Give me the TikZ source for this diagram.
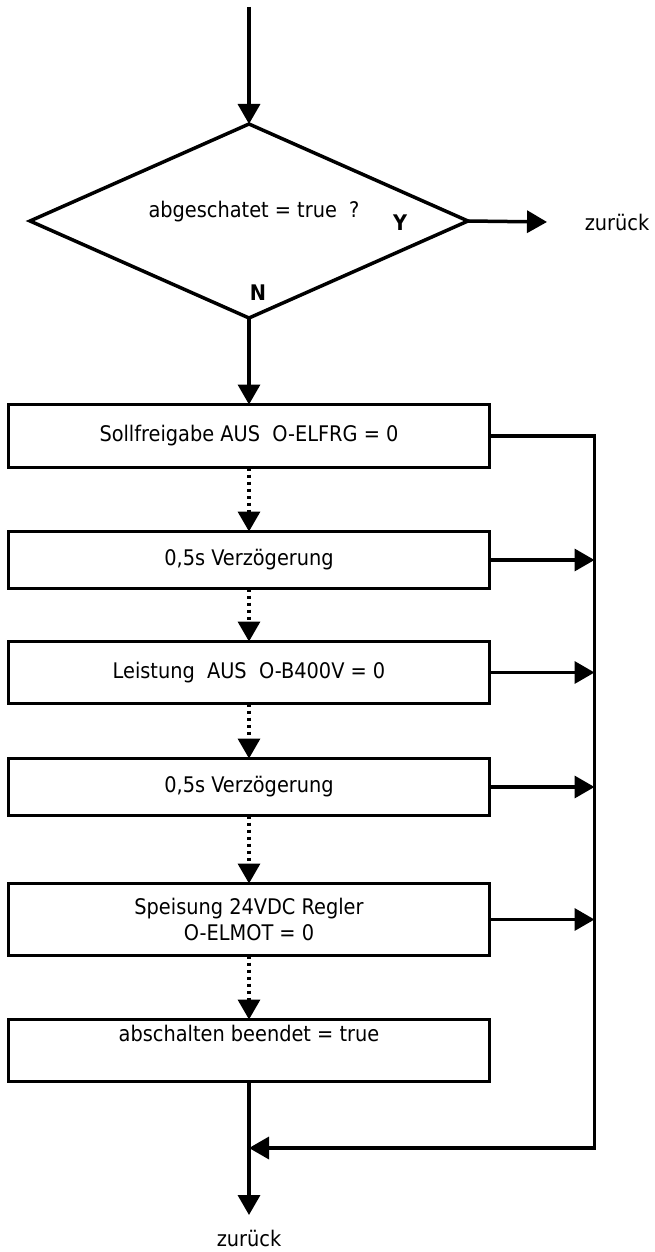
\documentclass[tikz,border=0pt]{standalone}
\usepackage{fontspec}
\setmainfont{DejaVu Sans Condensed}
\usepackage{tikz}
\usetikzlibrary{arrows.meta,positioning,shapes.geometric}
\tikzset{
    %Define standard arrow tip
    >={Triangle[length=20pt,width=22pt]},
    %Define style for boxes
    kasten/.style={
           rectangle,
           draw=black, line width=3.5pt,
           outer sep=0pt,
           minimum width=481pt,
           minimum height=57pt,
           align=center,
           font=\fontsize{21.5}{26.5}\selectfont},
    raute/.style={
           diamond,
           draw=black, line width=3.5pt,
           outer sep=0pt,
           minimum width=438pt,
           minimum height=194pt},
    schrift/.style={
           inner sep=0pt,
           font=\fontsize{21.5}{26.5}\selectfont},
    fett/.style={
           schrift,
           font=\fontsize{21.5}{26.5}\selectfont\bfseries},
    % Define arrow styles
    pfeil/.style={
           ->,
           line width=3.5pt,
           line join=miter},
    punktpfeil/.style={
           pfeil,
           dash pattern=on 3.5pt off 3.5pt}
}
\begin{document}
\begin{tikzpicture}[x=1pt,y=-1pt]
\useasboundingbox (0,0) rectangle (654,1252);
 %nodes
\node[raute](frage) at (249,221){};
\node[schrift](fragetext) at (254,212){abgeschatet = true~~?};
\node[fett](ja) at (400,223){Y};
\node[fett](nein) at (258,293){N};
\node[schrift](zurueck1) at (617,222){zurück};

\node[kasten, minimum height=63pt, below=86.5pt of frage](kasten1){Sollfreigabe AUS~~O-ELFRG = 0};
\node[kasten, below=64pt of kasten1](kasten2){0,5s Verzögerung};
\node[kasten, minimum height=62pt, below=53pt of kasten2](kasten3){Leistung~~AUS~~O-B400V = 0};
\node[kasten, below=55pt of kasten3](kasten4){0,5s Verzögerung};
\node[kasten, minimum height=72pt, below=68pt of kasten4](kasten5){Speisung 24VDC Regler\\O-ELMOT = 0};
\node[kasten, minimum height=62pt, below=64pt of kasten5](kasten6){abschalten beendet = true\\\strut};

 %helper points
\coordinate (start) at (249,7);
\coordinate (jaende) at (547,222);
\coordinate[right=105pt of kasten1] (oben);
\coordinate[below=66.5pt of kasten6] (merge);
\coordinate[below=133.5pt of kasten6] (ende);
\coordinate (unten) at (oben |- merge);
\node[schrift, below=15pt of ende](zurueck2){zurück};

 %connectors
\draw[pfeil] (start) -- (frage);
\draw[pfeil] (frage.east) -- (jaende);
\draw[pfeil] (frage) -- (kasten1);
\draw[punktpfeil] (kasten1) -- (kasten2);
\draw[punktpfeil] (kasten2) -- (kasten3);
\draw[punktpfeil] (kasten3) -- (kasten4);
\draw[punktpfeil] (kasten4) -- (kasten5);
\draw[punktpfeil] (kasten5) -- (kasten6);
\draw[pfeil] (kasten6) -- (ende);
\draw[pfeil] (kasten1.east) -- (oben) -- (unten) -- (merge);
\foreach \k in {kasten2,kasten3,kasten4,kasten5}
  \draw[pfeil] (\k.east) -- (\k.east -| oben);

\end{tikzpicture}
\end{document}
